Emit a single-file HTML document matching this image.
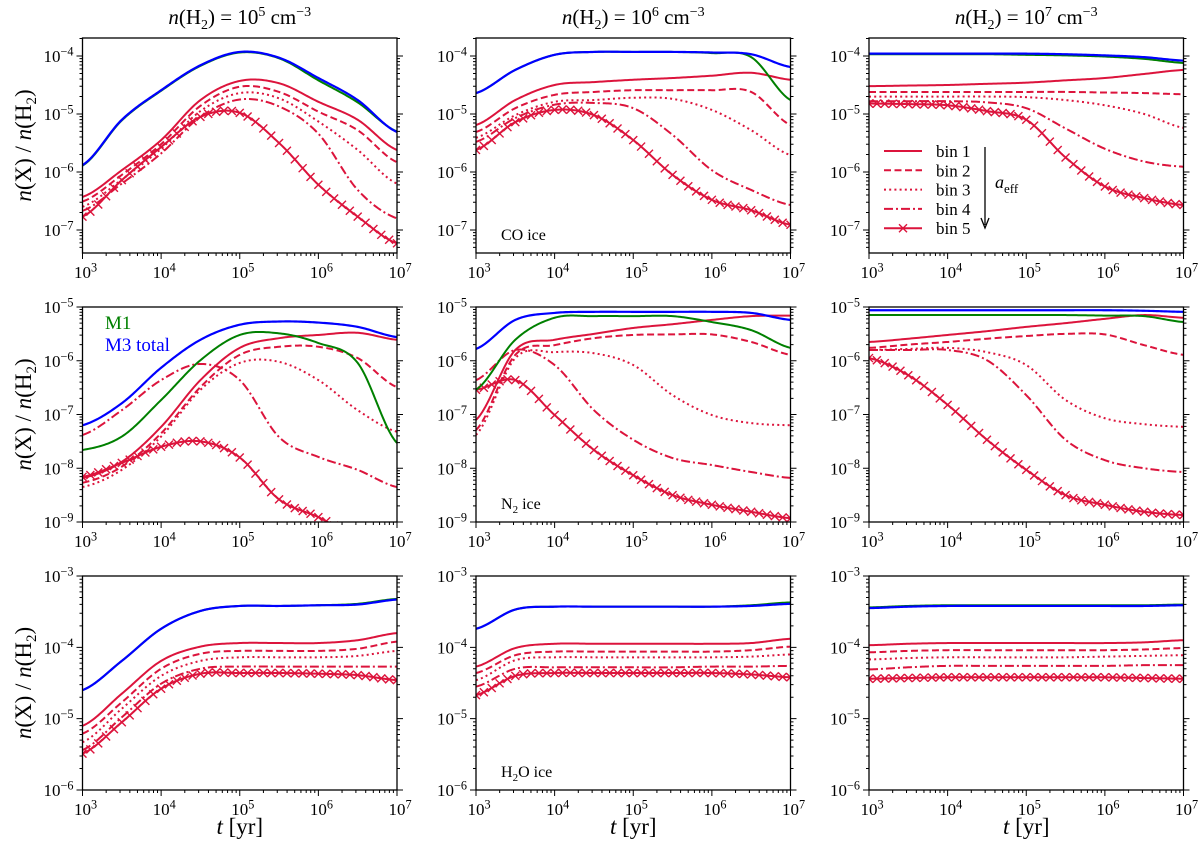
<!DOCTYPE html>
<html><head><meta charset="utf-8">
<style>
html,body{margin:0;padding:0;background:#fff;}
svg{display:block;font-family:"Liberation Serif",serif;}
</style></head>
<body>
<svg id="chart" width="1200" height="848" viewBox="0 0 1200 848" xmlns="http://www.w3.org/2000/svg"></svg>
<script>
// ---- data (log10 of abundance at log10 t) ----
const logT = [3,3.5,4,4.5,5,5.5,6,6.5,7];
const colTitles = ["5","6","7"];
const binNames = ["bin 1","bin 2","bin 3","bin 4","bin 5"];
// Row 1: CO ice
const p11_blue = [-5.88,-5.10,-4.59,-4.16,-3.93,-4.03,-4.38,-4.76,-5.31];
const p11_green = [-5.89,-5.11,-4.60,-4.17,-3.94,-4.04,-4.42,-4.80,-5.30];
const p11_b1 = [-6.43,-5.97,-5.45,-4.76,-4.43,-4.47,-4.79,-5.10,-5.62];
const p11_b2 = [-6.51,-6.05,-5.52,-4.86,-4.53,-4.62,-4.96,-5.28,-5.83];
const p11_b3 = [-6.60,-6.13,-5.60,-4.95,-4.64,-4.73,-5.13,-5.62,-6.20];
const p11_b4 = [-6.67,-6.20,-5.68,-5.05,-4.75,-4.87,-5.34,-6.31,-6.80];
const p11_b5 = [-6.77,-6.14,-5.57,-5.05,-4.98,-5.50,-6.22,-6.77,-7.23];
const p12_blue = [-4.64,-4.24,-3.98,-3.93,-3.93,-3.93,-3.94,-3.97,-4.19];
const p12_green = [-4.64,-4.24,-3.98,-3.93,-3.93,-3.93,-3.95,-4.02,-4.76];
const p12_b1 = [-5.19,-4.76,-4.50,-4.45,-4.41,-4.38,-4.34,-4.29,-4.41];
const p12_b2 = [-5.31,-4.90,-4.67,-4.62,-4.59,-4.59,-4.59,-4.62,-5.19];
const p12_b3 = [-5.41,-5.02,-4.79,-4.76,-4.72,-4.74,-4.93,-5.28,-5.71];
const p12_b4 = [-5.48,-5.07,-4.84,-4.81,-4.90,-5.36,-5.97,-6.31,-6.57];
const p12_b5 = [-5.62,-5.14,-4.93,-5.02,-5.45,-6.05,-6.48,-6.66,-6.91];
const p13_blue = [-3.96,-3.96,-3.96,-3.96,-3.96,-3.97,-3.99,-4.02,-4.08];
const p13_green = [-3.97,-3.97,-3.97,-3.97,-3.98,-3.99,-4.01,-4.05,-4.12];
const p13_b1 = [-4.52,-4.51,-4.50,-4.48,-4.46,-4.42,-4.38,-4.31,-4.24];
const p13_b2 = [-4.62,-4.62,-4.62,-4.62,-4.62,-4.62,-4.63,-4.64,-4.66];
const p13_b3 = [-4.70,-4.70,-4.70,-4.70,-4.71,-4.76,-4.85,-5.00,-5.24];
const p13_b4 = [-4.78,-4.78,-4.78,-4.80,-4.90,-5.25,-5.60,-5.82,-5.91];
const p13_b5 = [-4.82,-4.83,-4.85,-4.95,-5.10,-5.75,-6.25,-6.45,-6.57];
// Row 2: N2 ice
const p21_blue = [-7.20,-6.79,-6.13,-5.61,-5.33,-5.27,-5.29,-5.37,-5.56];
const p21_green = [-7.66,-7.41,-6.73,-5.99,-5.52,-5.49,-5.67,-6.04,-7.53];
const p21_b1 = [-8.18,-7.88,-7.23,-6.36,-5.76,-5.58,-5.52,-5.48,-5.61];
const p21_b2 = [-8.27,-7.97,-7.35,-6.49,-5.89,-5.74,-5.74,-5.95,-6.49];
const p21_b3 = [-8.35,-8.03,-7.41,-6.54,-6.04,-6.02,-6.36,-6.92,-7.32];
const p21_b4 = [-7.38,-6.92,-6.36,-6.06,-6.36,-7.42,-7.79,-8.03,-8.35];
const p21_b5 = [-8.16,-7.90,-7.60,-7.50,-7.80,-8.58,-8.91,-9.30,-9.60];
const p22_blue = [-5.78,-5.24,-5.11,-5.09,-5.09,-5.09,-5.09,-5.11,-5.24];
const p22_green = [-6.54,-5.61,-5.20,-5.17,-5.17,-5.17,-5.28,-5.43,-5.76];
const p22_b1 = [-7.10,-5.80,-5.61,-5.50,-5.39,-5.32,-5.24,-5.17,-5.16];
const p22_b2 = [-7.29,-5.89,-5.71,-5.58,-5.52,-5.51,-5.51,-5.65,-5.89];
const p22_b3 = [-7.38,-5.95,-5.84,-5.86,-6.08,-6.64,-7.01,-7.16,-7.20];
const p22_b4 = [-6.36,-5.80,-6.08,-6.92,-7.47,-7.81,-7.94,-8.07,-8.18];
const p22_b5 = [-6.54,-6.36,-7.01,-7.66,-8.13,-8.50,-8.68,-8.81,-8.93];
const p23_blue = [-5.06,-5.06,-5.06,-5.06,-5.06,-5.06,-5.06,-5.07,-5.09];
const p23_green = [-5.15,-5.15,-5.15,-5.15,-5.15,-5.15,-5.16,-5.17,-5.28];
const p23_b1 = [-5.65,-5.59,-5.52,-5.45,-5.37,-5.30,-5.22,-5.15,-5.20];
const p23_b2 = [-5.76,-5.70,-5.65,-5.59,-5.54,-5.50,-5.51,-5.71,-5.89];
const p23_b3 = [-5.80,-5.78,-5.76,-5.84,-6.08,-6.73,-7.07,-7.18,-7.23];
const p23_b4 = [-5.80,-5.80,-5.80,-5.99,-6.64,-7.47,-7.85,-8.00,-8.07];
const p23_b5 = [-5.95,-6.27,-6.82,-7.47,-8.03,-8.50,-8.68,-8.81,-8.87];
// Row 3: H2O ice
const p31_blue = [-4.60,-4.19,-3.74,-3.49,-3.42,-3.42,-3.41,-3.40,-3.33];
const p31_green = [-4.60,-4.19,-3.74,-3.49,-3.42,-3.42,-3.41,-3.39,-3.32];
const p31_b1 = [-5.10,-4.65,-4.19,-3.99,-3.94,-3.94,-3.94,-3.90,-3.80];
const p31_b2 = [-5.21,-4.77,-4.30,-4.09,-4.05,-4.05,-4.05,-4.02,-3.92];
const p31_b3 = [-5.33,-4.86,-4.40,-4.19,-4.14,-4.14,-4.14,-4.12,-4.05];
const p31_b4 = [-5.44,-4.98,-4.51,-4.30,-4.27,-4.27,-4.27,-4.27,-4.27];
const p31_b5 = [-5.49,-5.05,-4.58,-4.37,-4.36,-4.36,-4.37,-4.39,-4.46];
const p32_blue = [-3.74,-3.47,-3.43,-3.43,-3.43,-3.43,-3.43,-3.42,-3.39];
const p32_green = [-3.74,-3.47,-3.43,-3.43,-3.43,-3.43,-3.43,-3.41,-3.37];
const p32_b1 = [-4.27,-4.01,-3.95,-3.95,-3.95,-3.95,-3.95,-3.94,-3.88];
const p32_b2 = [-4.36,-4.11,-4.06,-4.06,-4.06,-4.06,-4.06,-4.04,-3.99];
const p32_b3 = [-4.46,-4.18,-4.14,-4.14,-4.14,-4.14,-4.14,-4.13,-4.10];
const p32_b4 = [-4.55,-4.30,-4.28,-4.28,-4.28,-4.28,-4.27,-4.27,-4.26];
const p32_b5 = [-4.67,-4.40,-4.36,-4.36,-4.36,-4.36,-4.36,-4.38,-4.42];
const p33_blue = [-3.45,-3.43,-3.42,-3.42,-3.42,-3.42,-3.42,-3.42,-3.41];
const p33_green = [-3.44,-3.42,-3.41,-3.41,-3.41,-3.41,-3.41,-3.41,-3.40];
const p33_b1 = [-3.97,-3.95,-3.94,-3.94,-3.94,-3.94,-3.94,-3.93,-3.90];
const p33_b2 = [-4.07,-4.05,-4.04,-4.04,-4.04,-4.04,-4.04,-4.03,-4.01];
const p33_b3 = [-4.17,-4.15,-4.14,-4.14,-4.14,-4.14,-4.13,-4.12,-4.11];
const p33_b4 = [-4.31,-4.28,-4.26,-4.26,-4.26,-4.26,-4.26,-4.25,-4.25];
const p33_b5 = [-4.44,-4.43,-4.42,-4.42,-4.42,-4.42,-4.42,-4.43,-4.44];

const panelSeries = [
 [[p11_b1,p11_b2,p11_b3,p11_b4,p11_b5,p11_green,p11_blue],[p12_b1,p12_b2,p12_b3,p12_b4,p12_b5,p12_green,p12_blue],[p13_b1,p13_b2,p13_b3,p13_b4,p13_b5,p13_green,p13_blue]],
 [[p21_b1,p21_b2,p21_b3,p21_b4,p21_b5,p21_green,p21_blue],[p22_b1,p22_b2,p22_b3,p22_b4,p22_b5,p22_green,p22_blue],[p23_b1,p23_b2,p23_b3,p23_b4,p23_b5,p23_green,p23_blue]],
 [[p31_b1,p31_b2,p31_b3,p31_b4,p31_b5,p31_green,p31_blue],[p32_b1,p32_b2,p32_b3,p32_b4,p32_b5,p32_green,p32_blue],[p33_b1,p33_b2,p33_b3,p33_b4,p33_b5,p33_green,p33_blue]]
];
const seriesKeys = ["bin-1","bin-2","bin-3","bin-4","bin-5","m1","m3-total"];
const rowLogRange = [[-7.397,-3.69],[-9,-5],[-6,-3]];
const rowDecades = [[-7,-6,-5,-4],[-9,-8,-7,-6,-5],[-6,-5,-4,-3]];
const xDecades = [3,4,5,6,7];
const iceLabels = [["CO"," ice",""],["N","2"," ice"],["H","2","O ice"]];

// ---- layout ----
const NS="http://www.w3.org/2000/svg";
const svg=document.getElementById('chart');
const colX=[82.5,476,869], plotW=314.5;
const rowY=[[38,253],[307,522],[576,790]];
const RED="#dc143c";
function el(tag,attrs,parent){const e=document.createElementNS(NS,tag);for(const k in attrs)e.setAttribute(k,attrs[k]);(parent||svg).appendChild(e);return e;}
function interp(vals,L){
  let t=(L-logT[0])/(logT[1]-logT[0]);let i=Math.floor(t);if(i>=vals.length-1)i=vals.length-2;if(i<0)i=0;
  const u=t-i;const p0=vals[Math.max(i-1,0)],p1=vals[i],p2=vals[i+1],p3=vals[Math.min(i+2,vals.length-1)];
  return 0.5*((2*p1)+(-p0+p2)*u+(2*p0-5*p1+4*p2-p3)*u*u+(-p0+3*p1-3*p2+p3)*u*u*u);
}
function supText(parent,x,y,base,sup,size,anchor,name){
  const t=el('text',{x:x,y:y,'font-size':size,'text-anchor':anchor,fill:'#000'},parent);
  
  
  t.appendChild(document.createTextNode(base));
  const s=el('tspan',{dy:-size*0.38,'font-size':size*0.72},t);s.textContent=sup;
  return t;
}
const styles=[
 {c:RED,w:2,d:''},{c:RED,w:2,d:'7,3.5'},{c:RED,w:2,d:'2,3.2'},{c:RED,w:2,d:'9,3,2,3'},{c:RED,w:2,d:''},
 {c:'#008000',w:2,d:''},{c:'#0000ff',w:2.2,d:''}];

for(let r=0;r<3;r++){for(let c=0;c<3;c++){
  const x0=colX[c],x1=x0+plotW,yT=rowY[r][0],yB=rowY[r][1];
  const [lmin,lmax]=rowLogRange[r];
  const sx=L=>x0+(L-3)/4*plotW;
  const sy=v=>yB-(v-lmin)/(lmax-lmin)*(yB-yT);
  const g=el('g',{});
  
  
  const cid='clip'+r+c;
  const cp=el('clipPath',{id:cid},g);el('rect',{x:x0,y:yT,width:plotW,height:yB-yT},cp);
  const series=panelSeries[r][c];
  for(let s=0;s<series.length;s++){
    const vals=series[s];const st=styles[s];
    let d='';
    for(let L=3;L<=7.0001;L+=0.02){d+=(d?'L':'M')+sx(L).toFixed(2)+','+sy(interp(vals,L)).toFixed(2);}
    const p=el('path',{d:d,fill:'none',stroke:st.c,'stroke-width':st.w,'stroke-dasharray':st.d,'clip-path':'url(#'+cid+')'},g);
    
    
    if(s===4){
      let md='';
      for(let L=3;L<=7.0001;L+=0.1){const X=sx(L),Y=sy(interp(vals,L));md+='M'+(X-4)+','+(Y-4)+'L'+(X+4)+','+(Y+4)+'M'+(X-4)+','+(Y+4)+'L'+(X+4)+','+(Y-4);}
      const m=el('path',{d:md,stroke:RED,'stroke-width':1.4,fill:'none','clip-path':'url(#'+cid+')'},g);
      
      
    }
  }
  const fr=el('rect',{x:x0,y:yT,width:plotW,height:yB-yT,fill:'none',stroke:'#000','stroke-width':1.3},g);
  
  
  let td='';
  for(let D=3;D<7;D++){for(let k=2;k<10;k++){const X=sx(D+Math.log10(k));td+='M'+X+','+yB+'l0,3';}}
  for(const D of xDecades){td+='M'+sx(D)+','+yB+'l0,6';}
  for(let D=Math.floor(lmin);D<Math.ceil(lmax);D++){for(let k=2;k<10;k++){const v=D+Math.log10(k);if(v>lmin&&v<lmax){const Y=sy(v);td+='M'+x0+','+Y+'l-3,0M'+x1+','+Y+'l3,0';}}}
  for(const D of rowDecades[r]){const Y=sy(D);td+='M'+x0+','+Y+'l-6,0M'+x1+','+Y+'l6,0';}
  const tk=el('path',{d:td,stroke:'#000','stroke-width':1,fill:'none'},g);
  
  
  for(const D of xDecades){supText(g,sx(D)+3,yB+25,'10',String(D),17,'middle','x-tick-label');}
  for(const D of rowDecades[r]){supText(g,x0-9,sy(D)+6,'10','−'+(-D),17,'end','y-tick-label');}
  if(c===1){
    const t=el('text',{x:x0+25,y:yB-13,'font-size':16,fill:'#000'},g);
    
    
    const lab=iceLabels[r];
    t.appendChild(document.createTextNode(lab[0]));
    if(r>0){const s=el('tspan',{dy:4,'font-size':11},t);s.textContent=lab[1];const s2=el('tspan',{dy:-4},t);s2.textContent=lab[2];}
    else{const s2=el('tspan',{},t);s2.textContent=lab[1];}
  }
}}
for(let c=0;c<3;c++){
  const t=el('text',{x:colX[c]+plotW/2,y:24,'font-size':21,'text-anchor':'middle',fill:'#000'});
  
  
  t.innerHTML='<tspan font-style="italic">n</tspan>(H<tspan dy="5" font-size="14">2</tspan><tspan dy="-5">) = 10</tspan><tspan dy="-8" font-size="14">'+colTitles[c]+'</tspan><tspan dy="8"> cm</tspan><tspan dy="-8" font-size="14">−3</tspan>';
}
for(let r=0;r<3;r++){
  const cy=(rowY[r][0]+rowY[r][1])/2;
  const t=el('text',{x:0,y:0,'font-size':23,'text-anchor':'middle',fill:'#000',transform:'translate(31,'+cy+') rotate(-90)'});
  
  
  t.innerHTML='<tspan font-style="italic">n</tspan>(X) / <tspan font-style="italic">n</tspan>(H<tspan dy="5" font-size="15">2</tspan><tspan dy="-5">)</tspan>';
}
for(let c=0;c<3;c++){
  const t=el('text',{x:colX[c]+plotW/2,y:834,'font-size':23,'text-anchor':'middle',fill:'#000'});
  
  
  t.innerHTML='<tspan font-style="italic">t</tspan> [yr]';
}
const m1=el('text',{x:105,y:329,'font-size':19,fill:'#008000'});m1.textContent='M1';


const m3=el('text',{x:105,y:351,'font-size':19,fill:'#0000ff'});m3.textContent='M3 total';


const lg=el('g',{});


for(let i=0;i<5;i++){
  const Y=151+i*19.3;const st=styles[i];
  const ln=el('line',{x1:884,y1:Y,x2:922,y2:Y,stroke:RED,'stroke-width':2,'stroke-dasharray':st.d},lg);
  
  
  if(i===4){const mk=el('path',{d:'M899,'+(Y-4)+'l8,8M899,'+(Y+4)+'l8,-8',stroke:RED,'stroke-width':1.4},lg);
    
    }
  const t=el('text',{x:936,y:Y+6,'font-size':17,fill:'#000'},lg);t.textContent=binNames[i];
  
  
}
const ar=el('path',{d:'M985,147L985,225M981,218L985,228L989,218',stroke:'#000','stroke-width':1.3,fill:'none'},lg);


const ae=el('text',{x:995,y:188,'font-size':18,fill:'#000'},lg);


ae.innerHTML='<tspan font-style="italic">a</tspan><tspan dy="5" font-size="13">eff</tspan>';
</script>
</body></html>
